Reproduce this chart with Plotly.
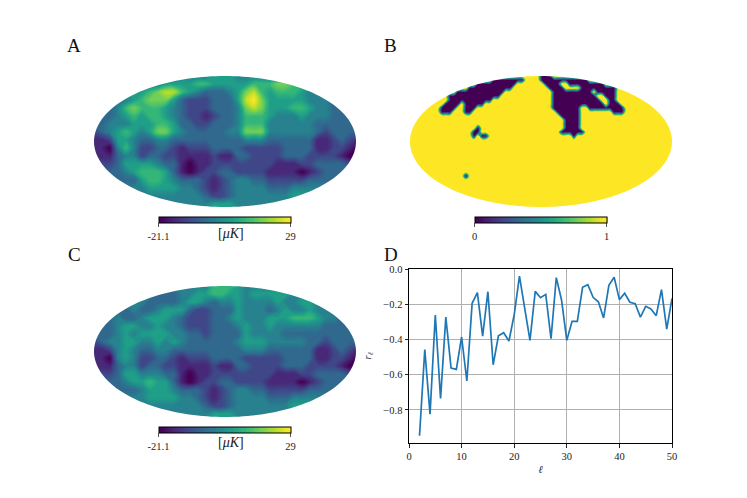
'''Sky maps A, B, C and the correlation curve D'''

import numpy as np
import plotly.graph_objects as go

W = 747
H = 498
SERIF = "Liberation Serif"

# temperature range of maps A and C
T_MIN = -21.1
T_MAX = 29

# Map A, one string per row, each digit is a level 0-9 between T_MIN and T_MAX
MAP_A = [
    "4444444444444445554444444444444444",
    "4444444445555665555566677666555555",
    "5555555678865433345786566654444444",
    "4444456777532223335897555554443333",
    "3334676665432223334787555665443333",
    "3334565665432212334666544454443333",
    "3344455566533223334666444444333333",
    "2345654577543333344777444444323333",
    "1125543344333333333444333333112321",
    "1104642233212223333222223333112210",
    "1113442332211112113322223332222100",
    "2223555543310112222222211122333321",
    "3333456665310122332222111101233333",
    "3333335665433321234433222223333333",
    "4444444555544321234444333444444444",
    "4444444444444432234444444555555555",
    "4444444444444445554444444444444444",
    "4444444444444445554444444444444444",
]

# Map C, same coding
MAP_C = [
    "4444444444444446665444444444444444",
    "4444444433344556655455555444444444",
    "4444444333345543445444454455444444",
    "3333343345553223335444345445443333",
    "3334334555432223345444555666544333",
    "3334554454432223334544544444433333",
    "3334545555443323333544443333333333",
    "2344554454543333334555444443323333",
    "1124543344333333333444333333112321",
    "1104542233212223333222223333112210",
    "1113442332211112113322223332222100",
    "2223554443310112222222211122333321",
    "3333455655310122332222111101233333",
    "3333334555433321234433222223333333",
    "4444444555544321234444333444444444",
    "4444444444444432234444444555555555",
    "4444444444444445554444444444444444",
    "4444444444444445554444444444444444",
]

# Map B is 1 everywhere but in these runs of columns, listed by row
MASK_ROWS = 34
MASK_COLS = 67
MASK_HOLES = {
    0: [(33, 35)],
    1: [(21, 28), (33, 44)],
    2: [(17, 26), (34, 37), (40, 48)],
    3: [(15, 25), (35, 38), (43, 51)],
    4: [(12, 23), (36, 45), (47, 51)],
    5: [(10, 22), (36, 46), (49, 51)],
    6: [(10, 20), (36, 47), (50, 51)],
    7: [(9, 12), (14, 18), (36, 48), (50, 52)],
    8: [(8, 11), (14, 16), (36, 42), (45, 49), (50, 53)],
    9: [(8, 10), (14, 15), (37, 42), (51, 53)],
    10: [(38, 42)],
    11: [(39, 42)],
    12: [(39, 42)],
    13: [(17, 17), (39, 42)],
    14: [(16, 17), (38, 39), (40, 43)],
    15: [(16, 16), (18, 19), (41, 41)],
    25: [(14, 14)],
}

# Panel D
ell = list(range(2, 51))
r_ell = [
    -0.947, -0.458, -0.824, -0.261, -0.735, -0.273, -0.563, -0.570, -0.386,
    -0.636, -0.195, -0.134, -0.381, -0.129, -0.544, -0.379, -0.362, -0.409,
    -0.260, -0.040, -0.223, -0.405, -0.127, -0.163, -0.144, -0.396, -0.049,
    -0.176, -0.405, -0.297, -0.297, -0.104, -0.089, -0.161, -0.186, -0.278,
    -0.093, -0.047, -0.174, -0.138, -0.189, -0.197, -0.273, -0.212, -0.227,
    -0.265, -0.117, -0.341, -0.167,
]


def levels_to_temp(rows):
    return [[T_MIN + (T_MAX - T_MIN) * int(c) / 9 for c in row] for row in rows]


def mask_grid():
    grid = [[1] * MASK_COLS for _ in range(MASK_ROWS)]
    for row, runs in MASK_HOLES.items():
        for c0, c1 in runs:
            for c in range(c0, c1 + 1):
                grid[row][c] = 0
    return grid


def px_x(x0, x1):
    return [x0 / W, x1 / W]


def px_y(y0, y1):
    return [1 - y1 / H, 1 - y0 / H]


fig = go.Figure()
layout = {}
shapes = []

# z, zmin, zmax, tick labels, axis number, box left, box top, px per cell, contour step
maps = [
    (levels_to_temp(MAP_A), T_MIN, T_MAX, ["-21.1", "29"], 1, 94, 76, 8, 1.0),
    (mask_grid(), 0, 1, ["0", "1"], 2, 410, 76, 4, 0.02),
    (levels_to_temp(MAP_C), T_MIN, T_MAX, ["-21.1", "29"], 3, 94, 286, 8, 1.0),
]
for z, zmin, zmax, labels, n, left, top, cell, step in maps:
    fig.add_trace(go.Contour(
        z=z, zmin=zmin, zmax=zmax, colorscale="Viridis",
        contours=dict(coloring="fill", start=zmin + step / 2, end=zmax, size=step, showlines=False),
        line=dict(width=0, smoothing=1.3),
        xaxis=f"x{n}", yaxis=f"y{n}", hoverinfo="skip",
        colorbar=dict(
            orientation="h", lenmode="pixels", len=132, thicknessmode="pixels", thickness=5.5,
            x=(left + 64.5) / W, xanchor="left", y=1 - (top + 140.5) / H, yanchor="top",
            xpad=0, ypad=0, outlinewidth=1, outlinecolor="black",
            tickmode="array", tickvals=[zmin, zmax], ticktext=labels,
            ticks="outside", ticklen=4, tickwidth=1, tickcolor="#555555",
            tickfont=dict(family=SERIF, size=10.5, color="#222222"),
        ),
    ))
    layout[f"xaxis{n}"] = dict(domain=px_x(left, left + 262), range=[0, 262 / cell], visible=False, anchor=f"y{n}")
    layout[f"yaxis{n}"] = dict(domain=px_y(top, top + 131), range=[131 / cell, 0], visible=False, anchor=f"x{n}")
    # white cover with an elliptical hole, so only the sky shows
    t = np.linspace(0, 2 * np.pi, 181)
    ex = (left + 131 + 131 * np.cos(t)) / W
    ey = 1 - (top + 65.5 + 65.5 * np.sin(t)) / H
    x0, x1 = (left - 3) / W, (left + 265) / W
    y0, y1 = 1 - (top - 3) / H, 1 - (top + 134) / H
    hole = "M" + " L".join(f"{a:.5f},{b:.5f}" for a, b in zip(ex, ey)) + " Z"
    shapes.append(dict(
        type="path", xref="paper", yref="paper", layer="above",
        path=f"M{x0:.5f},{y0:.5f} L{x1:.5f},{y0:.5f} L{x1:.5f},{y1:.5f} L{x0:.5f},{y1:.5f} Z {hole}",
        fillcolor="white", line=dict(width=0),
    ))

# Panel D
fig.add_trace(go.Scatter(
    x=ell, y=r_ell, mode="lines", line=dict(color="#1f77b4", width=1.7),
    xaxis="x4", yaxis="y4", showlegend=False,
))
axis_font = dict(family=SERIF, size=10.5, color="#222222")
layout["xaxis4"] = dict(
    domain=px_x(409, 672), range=[0, 50], anchor="y4", tickvals=[0, 10, 20, 30, 40, 50],
    ticks="outside", ticklen=3.5, tickcolor="#222222", tickfont=axis_font,
    showgrid=True, gridcolor="#b0b0b0", gridwidth=1, zeroline=False,
    showline=True, linecolor="black", linewidth=1, mirror=True,
    title=dict(text="<i>ℓ</i>", font=axis_font, standoff=4),
)
layout["yaxis4"] = dict(
    domain=px_y(269, 443), range=[-0.988, 0], anchor="x4", tickvals=[-0.8, -0.6, -0.4, -0.2, 0],
    tickformat=".1f", ticks="outside", ticklen=3.5, tickcolor="#222222", tickfont=axis_font,
    showgrid=True, gridcolor="#b0b0b0", gridwidth=1, zeroline=False,
    showline=True, linecolor="black", linewidth=1, mirror=True,
    title=dict(text="<i>r<sub>ℓ</sub></i>", font=axis_font, standoff=9),
)

# Panel letters and colour bar units
notes = []
for text, x, y in [("A", 74, 45), ("B", 390, 45), ("C", 74, 254), ("D", 391, 254)]:
    notes.append(dict(
        text=text, x=x / W, y=1 - y / H, xref="paper", yref="paper", showarrow=False,
        xanchor="center", yanchor="middle", font=dict(family=SERIF, size=19, color="#111111"),
    ))
for y in [233, 442]:
    notes.append(dict(
        text="[<i>μK</i>]", x=231 / W, y=1 - y / H, xref="paper", yref="paper", showarrow=False,
        xanchor="center", yanchor="middle", font=dict(family=SERIF, size=14, color="#222222"),
    ))

# autoexpand off: colour bars must not shrink the plot area
fig.update_layout(
    width=W, height=H, margin=dict(l=0, r=0, t=0, b=0, autoexpand=False), showlegend=False,
    paper_bgcolor="white", plot_bgcolor="white", shapes=shapes, annotations=notes, **layout,
)
# the page's default body margin would shift the whole figure
fig.write_html(
    "out.html",
    config={"displayModeBar": False},
    post_script="document.documentElement.style.overflow='hidden';"
    "document.body.style.margin='0';document.body.style.overflow='hidden';",
)
